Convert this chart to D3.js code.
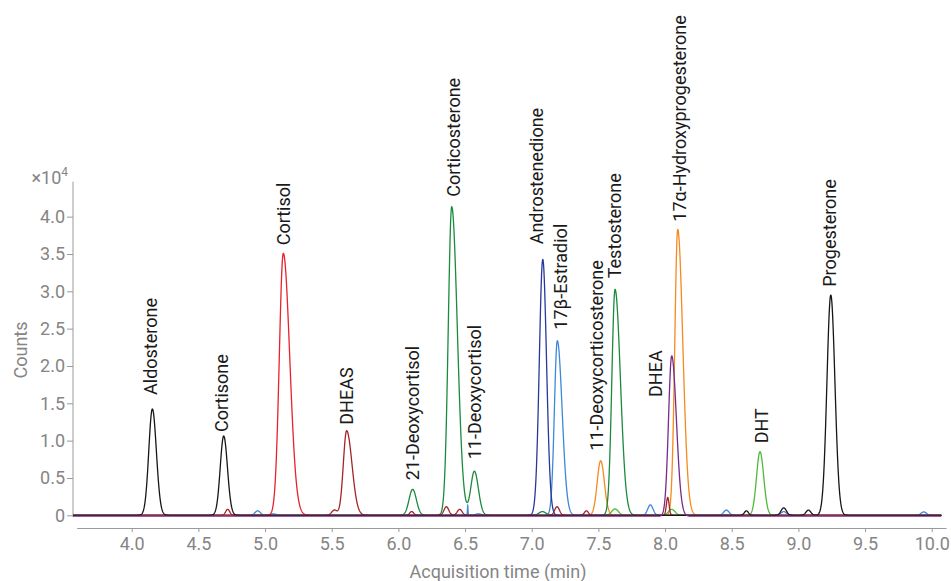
<!DOCTYPE html>
<html>
<head>
<meta charset="utf-8">
<script src="https://cdn.jsdelivr.net/npm/d3@7"></script>
<style>
  html, body { margin: 0; padding: 0; background: #fff; }
  svg { display: block; font-family: Roboto, "Noto Sans", sans-serif; }
  .axis text { fill: #858585; font-size: 18px; font-family: Roboto, sans-serif; }
  .axis path, .axis line { stroke: #9a9a9a; }
  .trace { fill: none; stroke-width: 1.3; stroke-linejoin: round; }
  .peak-label { fill: #1a1a1a; font-size: 18px; }
  .title { fill: #858585; font-size: 18px; }
</style>
</head>
<body>
<div id="chart"></div>
<script>
(function() {
  "use strict";

  // MRM traces (one line per channel)
  var traceNames = ['ltblue', 'orange', 'ltgreen', 'dkgreen', 'navy', 'red', 'darkred', 'black', 'purple'];
  var traceBaseline = [0, 0, 0, 0, 0, 0, 0, 0, -0.012];

  // Labelled compounds: retention time (min), height (x10^4 counts), peak widths (min)
  var compounds = ['Aldosterone', 'Cortisone', 'Cortisol', 'DHEAS', '21-Deoxycortisol',
    'Corticosterone', '11-Deoxycortisol', 'Androstenedione', '17\u03b2-Estradiol',
    '11-Deoxycorticosterone', 'Testosterone', 'DHEA', '17\u03b1-Hydroxyprogesterone', 'DHT', 'Progesterone'];
  var retentionTimes = [4.155, 4.69, 5.137, 5.612, 6.107, 6.40, 6.57, 7.083, 7.192, 7.517, 7.625, 8.05, 8.095, 8.712, 9.243];
  var peakHeights = [1.424, 1.062, 3.509, 1.133, 0.348, 4.133, 0.59, 3.428, 2.338, 0.731, 3.027, 2.147, 3.83, 0.852, 2.95];
  var widthLeft = [0.027, 0.026, 0.03, 0.025, 0.027, 0.026, 0.027, 0.026, 0.022, 0.026, 0.024, 0.024, 0.022, 0.026, 0.029];
  var widthRight = [0.03, 0.028, 0.048, 0.04, 0.028, 0.042, 0.03, 0.028, 0.036, 0.028, 0.04, 0.035, 0.038, 0.028, 0.031];
  var compoundTrace = ['black', 'black', 'red', 'darkred', 'dkgreen', 'dkgreen', 'dkgreen', 'navy', 'ltblue',
    'orange', 'dkgreen', 'purple', 'orange', 'ltgreen', 'black'];

  // Small unlabelled peaks near the baseline
  var minorTimes = [4.72, 4.945, 5.06, 5.52, 6.10, 6.36, 6.46, 6.52, 6.60, 7.08, 7.19, 7.41, 7.625, 7.89,
    8.02, 8.05, 8.46, 8.61, 8.89, 8.89, 9.075, 9.94];
  var minorHeights = [0.08, 0.06, 0.02, 0.07, 0.05, 0.115, 0.08, 0.14, 0.02, 0.05, 0.115, 0.06, 0.085, 0.14,
    0.24, 0.08, 0.07, 0.06, 0.10, 0.05, 0.07, 0.045];
  var minorWidths = [0.015, 0.02, 0.02, 0.02, 0.015, 0.018, 0.018, 0.002, 0.02, 0.025, 0.018, 0.015, 0.025, 0.02,
    0.01, 0.025, 0.02, 0.015, 0.02, 0.02, 0.018, 0.02];
  var minorTrace = ['darkred', 'ltblue', 'ltblue', 'darkred', 'darkred', 'darkred', 'darkred', 'ltblue', 'ltblue',
    'dkgreen', 'darkred', 'darkred', 'ltgreen', 'ltblue', 'darkred', 'ltgreen', 'ltblue', 'black', 'black',
    'ltblue', 'black', 'ltblue'];

  var xTicks = [4.0, 4.5, 5.0, 5.5, 6.0, 6.5, 7.0, 7.5, 8.0, 8.5, 9.0, 9.5, 10.0];
  var yTicks = [0, 0.5, 1.0, 1.5, 2.0, 2.5, 3.0, 3.5, 4.0];

  // Styling / layout (kept apart from the values)
  var traceColors = {
    ltblue: '#3d88d8', orange: '#f58a1f', ltgreen: '#4cbb38', dkgreen: '#1a8a3e', navy: '#28389a',
    red: '#e8222b', darkred: '#a4232a', black: '#161616', purple: '#782a8c'
  };
  // pixel nudges for the rotated labels: [dx, gap above peak top]
  var labelShift = [[-2, 14], [-2, 4], [0, 8], [0, 6], [0, 9], [1.5, 10], [0.7, 12], [-6, 15], [3.4, 11],
    [-4, 10], [0, 11], [-15.7, -42], [2.3, 7.6], [1.7, 8.4], [-0.7, 8.3]];

  var WIDTH = 951, HEIGHT = 581;

  var svg = d3.select('#chart').append('svg')
      .attr('width', WIDTH)
      .attr('height', HEIGHT);

  var x = d3.scaleLinear().domain([3.5875, 10.107]).range([76.7, 946]);
  var y = d3.scaleLinear().domain([0, 4.468]).range([515.3, 181.7]);

  // bi-Gaussian peak shape
  function peakValue(t, t0, h, sl, sr) {
    var s = t < t0 ? sl : sr;
    var z = (t - t0) / s;
    return h * Math.exp(-0.5 * z * z);
  }

  var tStart = x.invert(73), tEnd = x.invert(941.5);
  var samples = d3.range(tStart, tEnd, 0.002);

  var traces = traceNames.map(function(name, ti) {
    var pts = samples.map(function(t) {
      var v = traceBaseline[ti];
      compounds.forEach(function(c, i) {
        if (compoundTrace[i] === name) {
          v += peakValue(t, retentionTimes[i], peakHeights[i], widthLeft[i], widthRight[i]);
        }
      });
      minorTimes.forEach(function(mt, i) {
        if (minorTrace[i] === name) {
          v += peakValue(t, mt, minorHeights[i], minorWidths[i], minorWidths[i]);
        }
      });
      return [t, v];
    });
    return { name: name, points: pts };
  });

  var line = d3.line()
      .x(function(d) { return x(d[0]); })
      .y(function(d) { return y(d[1]); });

  // Axes
  var xAxis = svg.append('g')
      .attr('class', 'axis')
      .attr('transform', 'translate(0,528)')
      .call(d3.axisBottom(x).tickValues(xTicks).tickSize(4).tickSizeOuter(0).tickPadding(5)
        .tickFormat(d3.format('.1f')));
  xAxis.selectAll('text').attr('dy', '0.71em');

  var yAxis = svg.append('g')
      .attr('class', 'axis')
      .attr('transform', 'translate(73,0)')
      .call(d3.axisLeft(y).tickValues(yTicks).tickSize(6).tickSizeOuter(0).tickPadding(2)
        .tickFormat(function(d) { return d === 0 ? '0' : d.toFixed(1); }));
  yAxis.select('.domain').attr('d', 'M0,181.7V516.7');

  // Traces
  svg.append('g').selectAll('path')
      .data(traces)
      .enter().append('path')
      .attr('class', 'trace')
      .attr('stroke', function(d) { return traceColors[d.name]; })
      .attr('d', function(d) { return line(d.points); });

  // Peak labels
  svg.append('g').selectAll('text')
      .data(compounds)
      .enter().append('text')
      .attr('class', 'peak-label')
      .attr('text-anchor', 'start')
      .attr('dy', '0.35em')
      .attr('transform', function(d, i) {
        var px = x(retentionTimes[i]) + labelShift[i][0];
        var py = y(peakHeights[i]) - labelShift[i][1];
        return 'translate(' + px + ',' + py + ') rotate(-90)';
      })
      .text(function(d) { return d; });

  // Axis titles
  var mult = svg.append('text')
      .attr('class', 'title')
      .attr('x', 68)
      .attr('y', 184)
      .attr('text-anchor', 'end')
      .text('\u00d710');
  mult.append('tspan')
      .attr('dy', -8)
      .attr('font-size', 12)
      .text('4');

  svg.append('text')
      .attr('class', 'title')
      .attr('text-anchor', 'middle')
      .attr('transform', 'translate(27,350) rotate(-90)')
      .text('Counts');

  svg.append('text')
      .attr('class', 'title')
      .attr('text-anchor', 'middle')
      .attr('x', 498)
      .attr('y', 578)
      .text('Acquisition time (min)');
})();
</script>
</body>
</html>
